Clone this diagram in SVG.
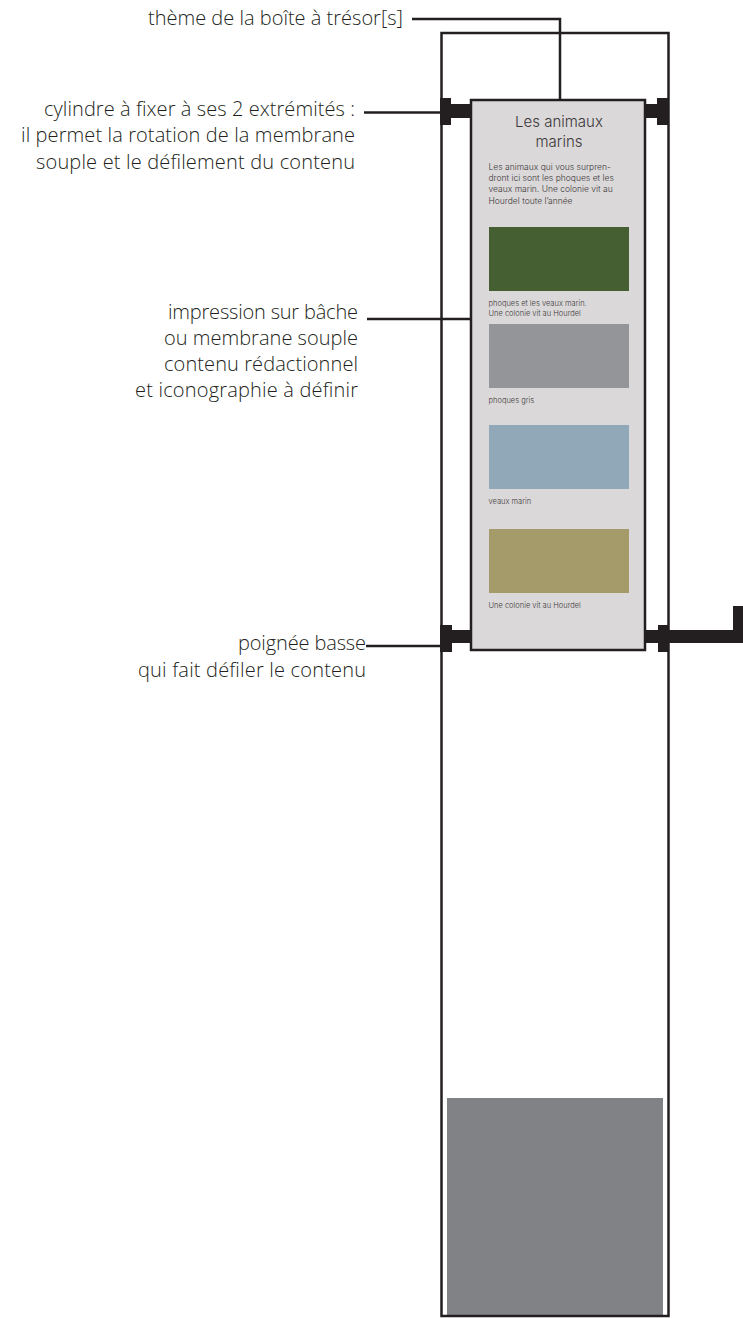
<svg xmlns="http://www.w3.org/2000/svg" width="743" height="1318" viewBox="0 0 743 1318">
<style>
.l{font-family:"Open Sans","Noto Sans",sans-serif;font-weight:300;font-size:20px;fill:#231f20;text-anchor:end}
.p{font-family:"Inter","Liberation Sans",sans-serif;font-weight:300;fill:#3a3738}
.b{font-size:8.500px}
.c{font-size:7.500px}
.t{font-size:15px;text-anchor:middle}
.k{fill:#231f20}
.w{fill:none;stroke:#231f20;stroke-width:2.500}
</style>
<rect width="743" height="1318" fill="#fff"/>
<g id="box-base"><rect x="447" y="1098" width="216" height="217" fill="#808285"/></g>
<g id="box-frame"><rect class="w" x="441.500" y="33" width="227" height="1283"/></g>
<g id="top-cylinder"><rect class="k" x="440" y="98" width="11" height="27"/><rect class="k" x="440" y="104" width="32" height="14"/><rect class="k" x="657" y="98" width="12" height="27"/><rect class="k" x="644" y="104" width="25" height="14"/></g>
<g id="bottom-handle"><rect class="k" x="440" y="625" width="12" height="27"/><rect class="k" x="440" y="630" width="32" height="13"/><rect class="k" x="658" y="625" width="11" height="27"/><path class="k" d="M644 630H733V606H743V643H644Z"/></g>
<g id="membrane"><rect x="471" y="100" width="174" height="550" fill="#dad8d9" stroke="#231f20" stroke-width="2.500"/>
<rect x="489" y="227" width="140" height="64" fill="#455f33"/><rect x="489" y="324" width="140" height="64" fill="#939598"/><rect x="489" y="425" width="140" height="64" fill="#90a8b8"/><rect x="489" y="529" width="140" height="64" fill="#a59a6a"/>
<text class="p t" x="559" y="127">Les animaux</text><text class="p t" x="559" y="147">marins</text>
<text class="p b" x="488.500" y="170">Les animaux qui vous surpren-</text><text class="p b" x="488.500" y="181">dront ici sont les phoques et les</text><text class="p b" x="488.500" y="192">veaux marin. Une colonie vit au</text><text class="p b" x="488.500" y="204">Hourdel toute l’année</text>
<text class="p c" x="488.500" y="306">phoques et les veaux marin.</text><text class="p c" x="488.500" y="316">Une colonie vit au Hourdel</text>
<text class="p c" x="488.500" y="403">phoques gris</text><text class="p c" x="488.500" y="504">veaux marin</text><text class="p c" x="488.500" y="608">Une colonie vit au Hourdel</text></g>
<g id="connectors" fill="none" stroke="#231f20" stroke-width="2.500"><path d="M412 19H560V100"/><path d="M364 112.500H441"/><path d="M367 319H471"/><path d="M366 646H441"/></g>
<g id="labels">
<text class="l" x="403" y="25" textLength="255">thème de la boîte à trésor[s]</text>
<text class="l" x="355" y="116" textLength="311">cylindre à fixer à ses 2 extrémités :</text><text class="l" x="355" y="142" textLength="334">il permet la rotation de la membrane</text><text class="l" x="355" y="169" textLength="319">souple et le défilement du contenu</text>
<text class="l" x="358" y="319" textLength="190">impression sur bâche</text><text class="l" x="358" y="345" textLength="194">ou membrane souple</text><text class="l" x="358" y="371" textLength="194">contenu rédactionnel</text><text class="l" x="358" y="397" textLength="223">et iconographie à définir</text>
<text class="l" x="366" y="650" textLength="128">poignée basse</text><text class="l" x="366" y="677" textLength="228">qui fait défiler le contenu</text>
</g>
</svg>
